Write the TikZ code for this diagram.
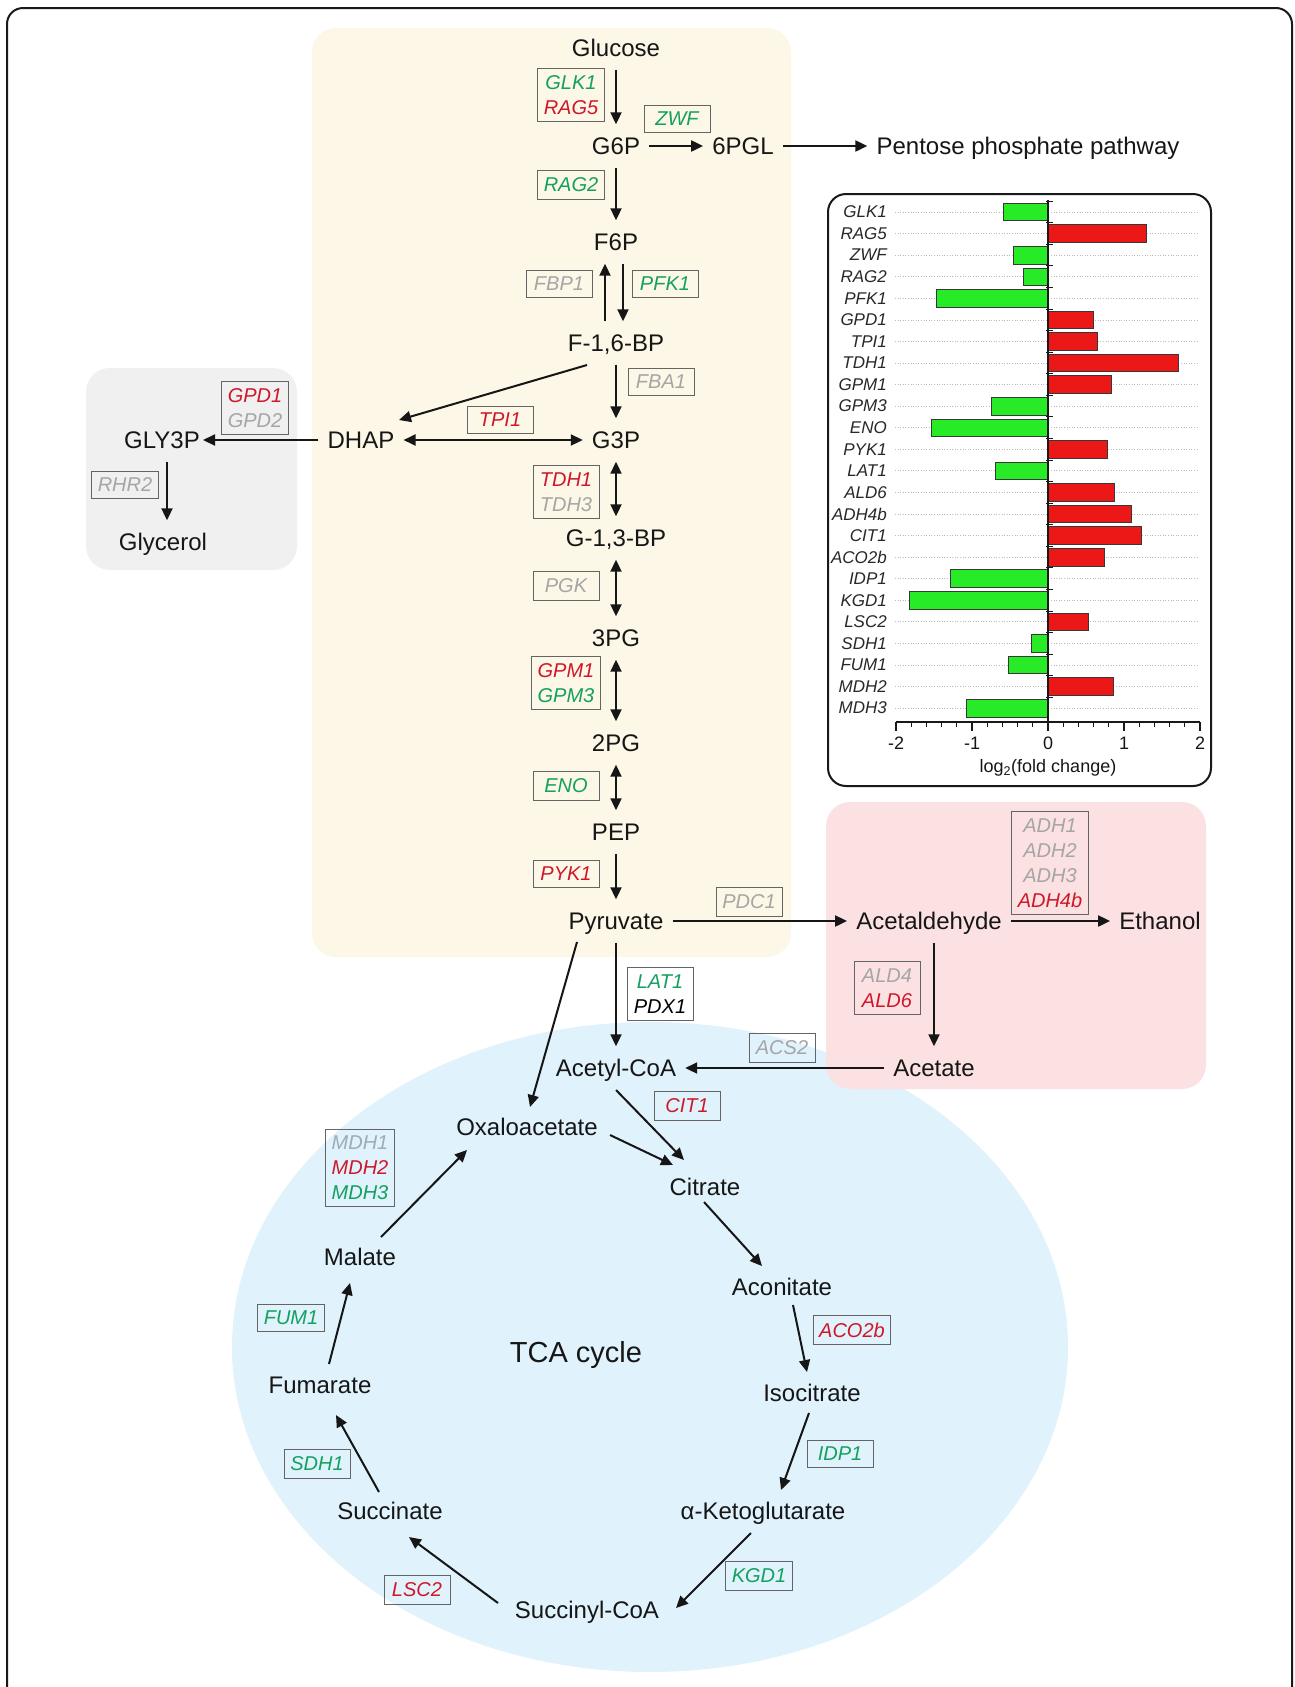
\documentclass[tikz,border=0pt]{standalone}
\usepackage{fontspec}
\setmainfont{Liberation Sans}
\usetikzlibrary{arrows.meta}
\definecolor{gup}{RGB}{206,24,42}
\definecolor{gdn}{RGB}{20,160,95}
\definecolor{gna}{RGB}{165,165,165}
\definecolor{gnb}{RGB}{160,170,182}
\definecolor{boxln}{RGB}{100,100,100}
\definecolor{bgyel}{RGB}{253,247,231}
\definecolor{bggry}{RGB}{240,240,240}
\definecolor{bgpnk}{RGB}{252,225,226}
\definecolor{bgblu}{RGB}{224,242,251}
\definecolor{barg}{RGB}{38,235,38}
\definecolor{barr}{RGB}{236,24,24}
\definecolor{barln}{RGB}{55,55,55}
\definecolor{txt}{RGB}{22,22,22}
\definecolor{frm}{RGB}{25,25,25}
\definecolor{gridc}{RGB}{185,185,185}
\begin{document}
\begin{tikzpicture}[x=1pt,y=-1pt,
  met/.style={font=\fontsize{24}{28}\selectfont, text=txt, inner xsep=9pt, inner ysep=10pt, text height=20pt, text depth=3pt},
  gbox/.style={draw=boxln, line width=1pt, font=\fontsize{20}{25}\selectfont\itshape, inner xsep=6pt, inner ysep=7pt, minimum width=66pt, align=center},
  arr/.style={line width=2pt, draw=txt, -{Triangle[length=12pt,width=11pt]}},
  darr/.style={line width=2pt, draw=txt, {Triangle[length=12pt,width=11pt]}-{Triangle[length=12pt,width=11pt]}},
  barlbl/.style={font=\fontsize{17}{19}\selectfont\itshape, text={rgb,255:red,40;green,40;blue,40}, inner sep=1pt},
  gridln/.style={draw=gridc, line width=0.7pt, dash pattern=on 1pt off 1.6pt},
  axlbl/.style={font=\fontsize{18}{20}\selectfont, text=txt, inner sep=1pt}
]
\useasboundingbox (0,0) rectangle (1295,1687);
\fill[white] (0,0) rectangle (1295,1687);
% outer frame
\draw[line width=2pt, draw=frm, rounded corners=16pt] (7,1700) -- (7,8) -- (1292,8) -- (1292,1700);

% backgrounds
\fill[bgyel, rounded corners=24pt] (312,28) rectangle (791,957);
\fill[bggry, rounded corners=24pt] (86,368) rectangle (297,570);
\fill[bgblu] (650,1347) ellipse [x radius=418, y radius=325];
\fill[bgpnk, rounded corners=24pt] (826,802) rectangle (1206,1089);

% metabolites
\node[met] (glc) at (616,48) {Glucose};
\node[met] (g6p) at (616,146) {G6P};
\node[met] (pgl) at (743,146) {6PGL};
\node[met] (ppp) at (1028,146) {Pentose phosphate pathway};
\node[met] (f6p) at (616,242) {F6P};
\node[met] (fbp) at (616,343) {F-1,6-BP};
\node[met] (g3p) at (616,440) {G3P};
\node[met] (dhap) at (361,440) {DHAP};
\node[met] (gly3p) at (162,440) {GLY3P};
\node[met] (glyc) at (163,542) {Glycerol};
\node[met] (g13bp) at (616,538) {G-1,3-BP};
\node[met] (pg3) at (616,638) {3PG};
\node[met] (pg2) at (616,743) {2PG};
\node[met] (pep) at (616,832) {PEP};
\node[met] (pyr) at (616,921) {Pyruvate};
\node[met] (acald) at (929,921) {Acetaldehyde};
\node[met] (etoh) at (1160,921) {Ethanol};
\node[met] (acet) at (934,1068) {Acetate};
\node[met] (accoa) at (616,1068) {Acetyl-CoA};
\node[met] (oaa) at (527,1127) {Oxaloacetate};
\node[met] (cit) at (705,1187) {Citrate};
\node[met] (acon) at (782,1287) {Aconitate};
\node[met] (icit) at (812,1393) {Isocitrate};
\node[met] (akg) at (763,1511) {α-Ketoglutarate};
\node[met] (succoa) at (587,1610) {Succinyl-CoA};
\node[met] (succ) at (390,1511) {Succinate};
\node[met] (fum) at (320,1385) {Fumarate};
\node[met] (mal) at (360,1257) {Malate};
\node[font=\fontsize{29}{34}\selectfont, text=txt] (tca) at (576,1355) {TCA cycle};

% gene boxes
\node[gbox] (glk) at (571,95) {\textcolor{gdn}{GLK1}\\\textcolor{gup}{RAG5}};
\node[gbox] (zwf) at (677,119) {\textcolor{gdn}{ZWF}};
\node[gbox] (rag2) at (571,185) {\textcolor{gdn}{RAG2}};
\node[gbox] (fbp1) at (559,284) {\textcolor{gna}{FBP1}};
\node[gbox] (pfk1) at (665,284) {\textcolor{gdn}{PFK1}};
\node[gbox] (fba1) at (661,382) {\textcolor{gna}{FBA1}};
\node[gbox] (gpd) at (255,408) {\textcolor{gup}{GPD1}\\\textcolor{gna}{GPD2}};
\node[gbox] (tpi1) at (500,420) {\textcolor{gup}{TPI1}};
\node[gbox] (rhr2) at (125,485) {\textcolor{gna}{RHR2}};
\node[gbox] (tdh) at (566,492) {\textcolor{gup}{TDH1}\\\textcolor{gna}{TDH3}};
\node[gbox] (pgk) at (566,586) {\textcolor{gna}{PGK}};
\node[gbox] (gpm) at (566,683) {\textcolor{gup}{GPM1}\\\textcolor{gdn}{GPM3}};
\node[gbox] (eno) at (566,786) {\textcolor{gdn}{ENO}};
\node[gbox] (pyk1) at (566,874) {\textcolor{gup}{PYK1}};
\node[gbox] (pdc1) at (749,902) {\textcolor{gna}{PDC1}};
\node[gbox] (adh) at (1050,863) {\textcolor{gna}{ADH1}\\\textcolor{gna}{ADH2}\\\textcolor{gna}{ADH3}\\\textcolor{gup}{ADH4b}};
\node[gbox] (lat) at (660,994) {\textcolor{gdn}{LAT1}\\\textcolor{black}{PDX1}};
\node[gbox] (ald) at (887,988) {\textcolor{gna}{ALD4}\\\textcolor{gup}{ALD6}};
\node[gbox] (acs2) at (782,1048) {\textcolor{gna}{ACS2}};
\node[gbox] (cit1) at (687,1106) {\textcolor{gup}{CIT1}};
\node[gbox] (mdh) at (360,1168) {\textcolor{gnb}{MDH1}\\\textcolor{gup}{MDH2}\\\textcolor{gdn}{MDH3}};
\node[gbox] (aco2b) at (852,1330) {\textcolor{gup}{ACO2b}};
\node[gbox] (fum1) at (291,1318) {\textcolor{gdn}{FUM1}};
\node[gbox] (idp1) at (840,1454) {\textcolor{gdn}{IDP1}};
\node[gbox] (sdh1) at (317,1464) {\textcolor{gdn}{SDH1}};
\node[gbox] (kgd1) at (759,1576) {\textcolor{gdn}{KGD1}};
\node[gbox] (lsc2) at (417,1590) {\textcolor{gup}{LSC2}};

% connectors: glycolysis
\draw[arr] (glc) -- (g6p);
\draw[arr] (g6p) -- (pgl);
\draw[arr] (pgl) -- (ppp);
\draw[arr] (g6p) -- (f6p);
\draw[arr] ([xshift=-11pt]fbp.north) -- ([xshift=-11pt]f6p.south);
\draw[arr] ([xshift=7pt]f6p.south) -- ([xshift=7pt]fbp.north);
\draw[arr] (fbp) -- (g3p);
\draw[arr] ([shift={(-29,22)}]fbp.center) -- ([shift={(38,-20)}]dhap.center);
\draw[darr] (dhap) -- (g3p);
\draw[arr] (dhap) -- ([xshift=-6pt]gly3p.east);
\draw[arr] ([xshift=5pt]gly3p.south) -- ([xshift=4pt]glyc.north);
\draw[darr] (g3p) -- (g13bp);
\draw[darr] (g13bp) -- (pg3);
\draw[darr] (pg3) -- (pg2);
\draw[darr] (pg2) -- (pep);
\draw[arr] (pep) -- (pyr);
% fermentation
\draw[arr] (pyr) -- (acald);
\draw[arr] (acald) -- (etoh);
\draw[arr] ([xshift=5pt]acald.south) -- (acet.north);
\draw[arr] (acet) -- (accoa);
\draw[arr] (pyr) -- (accoa);
\draw[arr] ([shift={(-39,21)}]pyr.center) -- ([shift={(3,-20)}]oaa.center);
% TCA
\draw[arr] ([shift={(0,22)}]accoa.center) -- ([shift={(-21,-27)}]cit.center);
\draw[arr] ([shift={(83,8)}]oaa.center) -- ([shift={(-32,-22)}]cit.center);
\draw[arr] ([shift={(-1,15)}]cit.center) -- ([shift={(-20,-21)}]acon.center);
\draw[arr] ([shift={(11,18)}]acon.center) -- ([shift={(-5,-21)}]icit.center);
\draw[arr] ([shift={(-3,20)}]icit.center) -- ([shift={(18,-21)}]akg.center);
\draw[arr] ([shift={(-12,22)}]akg.center) -- ([shift={(89,-2)}]succoa.center);
\draw[arr] ([shift={(-89,-7)}]succoa.center) -- ([shift={(19,26)}]succ.center);
\draw[arr] ([shift={(-11,-19)}]succ.center) -- ([shift={(16,30)}]fum.center);
\draw[arr] ([shift={(9,-21)}]fum.center) -- ([shift={(-10,26)}]mal.center);
\draw[arr] ([shift={(21,-20)}]mal.center) -- ([shift={(-60,23)}]oaa.center);

% bar chart
\draw[line width=2pt, draw=frm, rounded corners=18pt] (828,194) rectangle (1211,786);
\foreach \nm/\val [count=\i from 0] in {GLK1/-0.59, RAG5/1.29, ZWF/-0.46, RAG2/-0.32, PFK1/-1.47, GPD1/0.60, TPI1/0.645, TDH1/1.71, GPM1/0.83, GPM3/-0.75, ENO/-1.54, PYK1/0.785, LAT1/-0.69, ALD6/0.87, ADH4b/1.10, CIT1/1.23, ACO2b/0.74, IDP1/-1.29, KGD1/-1.82, LSC2/0.53, SDH1/-0.22, FUM1/-0.52, MDH2/0.855, MDH3/-1.08}{
  \pgfmathsetmacro\yy{212+21.57*\i}
  \pgfmathsetmacro\xx{1048+76*\val}
  \draw[gridln] (895,\yy) -- (1198,\yy);
  \node[barlbl, anchor=east] (lbl\i) at (888,\yy) {\nm};
  \ifdim \val pt<0pt
    \filldraw[fill=barg, draw=barln, line width=0.8pt] (\xx,{\yy-8.8}) rectangle (1048,{\yy+8.8});
  \else
    \filldraw[fill=barr, draw=barln, line width=0.8pt] (1048,{\yy-8.8}) rectangle (\xx,{\yy+8.8});
  \fi
  \draw[line width=1pt, draw=frm] (1046,{\yy-10.8}) -- (1053,{\yy-10.8});
}
\draw[line width=1.5pt, draw=frm] (1048,200) -- (1048,722);
\draw[line width=1.5pt, draw=frm] (896,722) -- (1200,722);
\foreach \k in {0,...,20}{
  \pgfmathsetmacro\tx{896+15.2*\k}
  \draw[line width=1pt, draw=frm] (\tx,722) -- (\tx,727);
}
\foreach \v in {-2,-1,0,1,2}{
  \draw[line width=1.3pt, draw=frm] ({1048+76*\v},722) -- ({1048+76*\v},731);
  \node[axlbl] (tk\v) at ({1048+76*\v},743) {\v};
}
\node[axlbl] (xlab) at (1048,768) {log\textsubscript{2}(fold change)};
\end{tikzpicture}
\end{document}
